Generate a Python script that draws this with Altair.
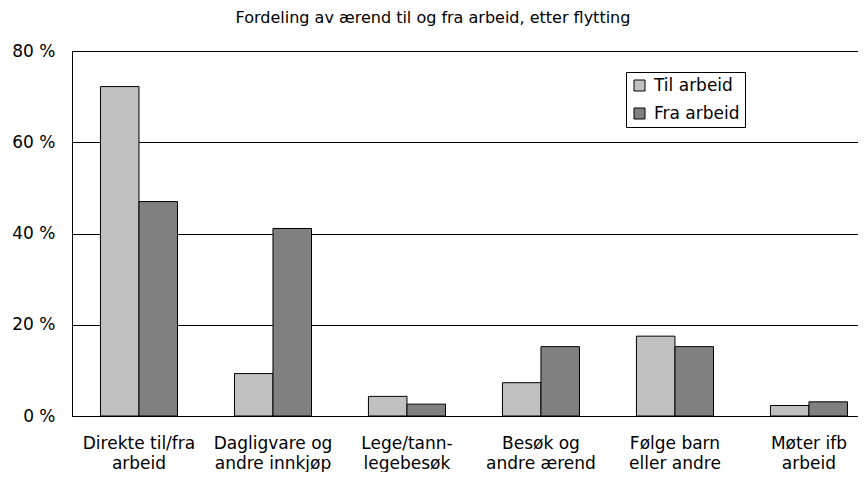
import altair as alt
import pandas as pd

categories = [
    "Direkte til/fra|arbeid",
    "Dagligvare og|andre innkjøp",
    "Lege/tann-|legebesøk",
    "Besøk og|andre ærend",
    "Følge barn|eller andre",
    "Møter ifb|arbeid",
]
series = ["Til arbeid", "Fra arbeid"]
til_arbeid = [72.2, 9.3, 4.3, 7.3, 17.5, 2.3]
fra_arbeid = [47.0, 41.1, 2.6, 15.2, 15.2, 3.1]
y_ticks = [0, 20, 40, 60, 80]
colors = ["#C0C0C0", "#808080"]

FONT = "DejaVu Sans"

df = pd.DataFrame({
    "Kategori": categories * 2,
    "Serie": [s for s in series for _ in categories],
    "Andel": til_arbeid + fra_arbeid,
})

chart = alt.Chart(df).mark_bar(stroke="black", strokeWidth=1).encode(
    x=alt.X(
        "Kategori:N",
        sort=categories,
        scale=alt.Scale(paddingInner=0.425, paddingOuter=0.1455, align=0.73),
        axis=alt.Axis(
            title=None, labelAngle=0, labelExpr="split(datum.label, '|')",
            labelLineHeight=20, ticks=False, labelPadding=19,
            domainColor="black", domainWidth=1, labelFont=FONT, labelFontSize=17,
            labelColor="black", labelLimit=300, grid=False,
        ),
    ),
    xOffset=alt.XOffset("Serie:N", sort=series,
                        scale=alt.Scale(paddingInner=0, paddingOuter=0)),
    y=alt.Y(
        "Andel:Q",
        scale=alt.Scale(domain=[0, 80]),
        axis=alt.Axis(
            title=None, values=y_ticks, labelExpr="datum.value + ' %'",
            ticks=False, labelPadding=17, grid=True, gridColor="black",
            gridOpacity=1, gridWidth=1, domainColor="black", domainWidth=1,
            labelFont=FONT, labelFontSize=17, labelColor="black",
        ),
    ),
    color=alt.Color(
        "Serie:N", sort=series,
        scale=alt.Scale(domain=series, range=colors),
        legend=alt.Legend(
            title=None, orient="none", legendX=554, legendY=21,
            fillColor="white", strokeColor="black", padding=5,
            symbolType="square", symbolSize=121, symbolStrokeColor="black",
            symbolStrokeWidth=1, labelFont=FONT, labelFontSize=17,
            labelColor="black", rowPadding=10, labelOffset=6, cornerRadius=0,
        ),
    ),
).properties(
    width=786,
    height=365,
    title=alt.TitleParams(
        "Fordeling av ærend til og fra arbeid, etter flytting",
        font=FONT, fontSize=16, fontWeight="normal", color="black",
        anchor="middle", dx=-32, offset=16,
    ),
    padding={"left": 64, "top": 43, "right": 0, "bottom": 56},
    autosize=alt.AutoSizeParams(type="none"),
).configure_view(stroke=None)

chart.save("out.html", embed_options={"renderer": "svg", "actions": False})
